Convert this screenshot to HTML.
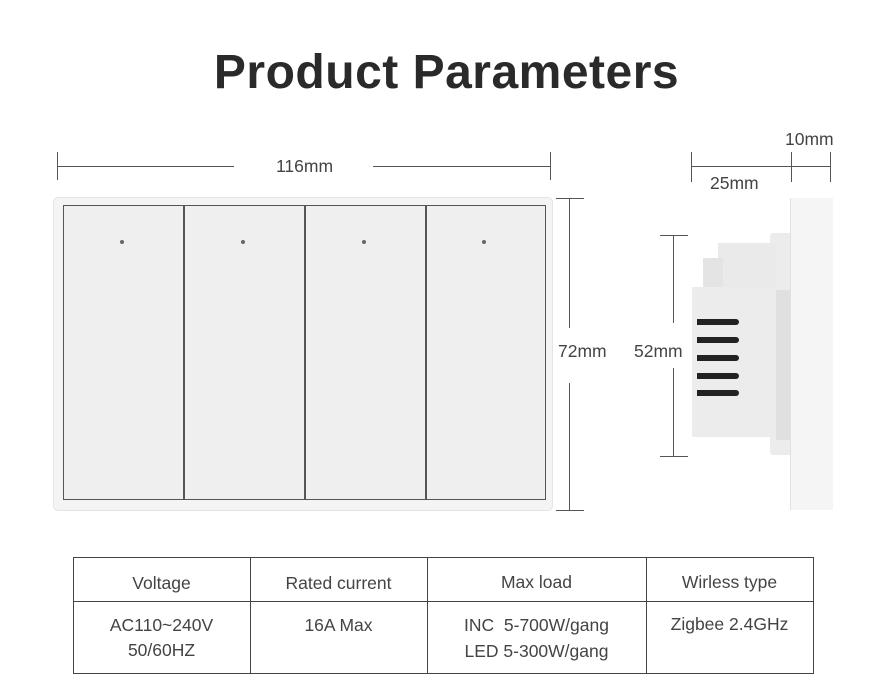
<!DOCTYPE html>
<html><head><style>
body{margin:0;width:893px;height:700px;background:#fff;position:relative;overflow:hidden;font-family:"Liberation Sans","DejaVu Sans",sans-serif;color:#333}
.a{position:absolute}
.t{position:absolute;font-size:17.5px;color:#444;white-space:nowrap}
</style></head><body>
<div class="a" style="left:0;top:45px;width:893px;text-align:center;font-size:48px;font-weight:bold;color:#2a2a2a;letter-spacing:0.5px">Product Parameters</div>

<!-- top dim -->
<div class="a" style="left:57px;top:152px;width:1px;height:28px;background:#555"></div>
<div class="a" style="left:57px;top:166px;width:177px;height:1px;background:#555"></div>
<div class="a" style="left:373px;top:166px;width:178px;height:1px;background:#555"></div>
<div class="a" style="left:550px;top:152px;width:1px;height:28px;background:#555"></div>
<div class="t" style="left:276px;top:156px">116mm</div>

<!-- panel -->
<div class="a" style="left:53px;top:197px;width:498px;height:312px;background:#f4f4f4;border:1px solid #e4e4e4;border-radius:5px"></div>
<div class="a" style="left:63px;top:205px;width:481px;height:293px;background:#efefef;border:1.5px solid #555"></div>
<div class="a" style="left:183px;top:206px;width:1.5px;height:293px;background:#555"></div>
<div class="a" style="left:304px;top:206px;width:1.5px;height:293px;background:#555"></div>
<div class="a" style="left:425px;top:206px;width:1.5px;height:293px;background:#555"></div>
<div class="a" style="left:120px;top:240px;width:4px;height:4px;border-radius:50%;background:#666"></div>
<div class="a" style="left:241px;top:240px;width:4px;height:4px;border-radius:50%;background:#666"></div>
<div class="a" style="left:362px;top:240px;width:4px;height:4px;border-radius:50%;background:#666"></div>
<div class="a" style="left:482px;top:240px;width:4px;height:4px;border-radius:50%;background:#666"></div>

<!-- 72mm -->
<div class="a" style="left:556px;top:198px;width:28px;height:1px;background:#555"></div>
<div class="a" style="left:569px;top:198px;width:1px;height:130px;background:#555"></div>
<div class="a" style="left:569px;top:383px;width:1px;height:127px;background:#555"></div>
<div class="a" style="left:556px;top:510px;width:28px;height:1px;background:#555"></div>
<div class="t" style="left:558px;top:341px">72mm</div>

<!-- side dims -->
<div class="a" style="left:691px;top:152px;width:1px;height:30px;background:#555"></div>
<div class="a" style="left:691px;top:166px;width:140px;height:1px;background:#555"></div>
<div class="a" style="left:791px;top:152px;width:1px;height:30px;background:#555"></div>
<div class="a" style="left:830px;top:152px;width:1px;height:30px;background:#555"></div>
<div class="t" style="left:785px;top:129px">10mm</div>
<div class="t" style="left:710px;top:173px">25mm</div>
<div class="a" style="left:660px;top:235px;width:28px;height:1px;background:#555"></div>
<div class="a" style="left:673px;top:235px;width:1px;height:88px;background:#555"></div>
<div class="a" style="left:673px;top:368px;width:1px;height:88px;background:#555"></div>
<div class="a" style="left:660px;top:456px;width:28px;height:1px;background:#555"></div>
<div class="t" style="left:634px;top:341px">52mm</div>

<!-- side view -->
<div class="a" style="left:770px;top:233px;width:22px;height:222px;background:#ececec;border-radius:3px 0 0 3px"></div>
<div class="a" style="left:718px;top:243px;width:58px;height:50px;background:#eaeaea"></div>
<div class="a" style="left:703px;top:258px;width:20px;height:40px;background:#e4e4e4"></div>
<div class="a" style="left:692px;top:287px;width:84px;height:150px;background:#ececec;border-radius:2px"></div>
<div class="a" style="left:776px;top:290px;width:14px;height:150px;background:#e0e0e0"></div>
<div class="a" style="left:697px;top:319px;width:42px;height:6px;background:#222;border-radius:0 3px 3px 0"></div>
<div class="a" style="left:697px;top:337px;width:42px;height:6px;background:#222;border-radius:0 3px 3px 0"></div>
<div class="a" style="left:697px;top:355px;width:42px;height:6px;background:#222;border-radius:0 3px 3px 0"></div>
<div class="a" style="left:697px;top:373px;width:42px;height:6px;background:#222;border-radius:0 3px 3px 0"></div>
<div class="a" style="left:697px;top:390px;width:42px;height:6px;background:#222;border-radius:0 3px 3px 0"></div>
<div class="a" style="left:791px;top:340px;width:5px;height:28px;border:1px solid #bbb;background:#f0f0f0"></div>
<div class="a" style="left:790px;top:198px;width:42px;height:312px;background:#f5f5f5;border-left:1px solid #e0e0e0"></div>

<!-- table -->
<div class="a" style="left:73px;top:557px;width:739px;height:115px;border:1px solid #444"></div>
<div class="a" style="left:73px;top:601px;width:740px;height:1px;background:#444"></div>
<div class="a" style="left:250px;top:557px;width:1px;height:116px;background:#444"></div>
<div class="a" style="left:427px;top:557px;width:1px;height:116px;background:#444"></div>
<div class="a" style="left:646px;top:557px;width:1px;height:116px;background:#444"></div>
<div class="t" style="left:73px;top:573px;width:177px;text-align:center">Voltage</div>
<div class="t" style="left:250px;top:573px;width:177px;text-align:center">Rated current</div>
<div class="t" style="left:427px;top:572px;width:219px;text-align:center">Max load</div>
<div class="t" style="left:646px;top:572px;width:167px;text-align:center">Wirless type</div>
<div class="t" style="left:73px;top:613px;width:177px;text-align:center;line-height:25px">AC110~240V<br>50/60HZ</div>
<div class="t" style="left:250px;top:613px;width:177px;text-align:center;line-height:25px">16A Max</div>
<div class="t" style="left:427px;top:612px;width:219px;text-align:center;line-height:26px">INC&nbsp; 5-700W/gang<br>LED 5-300W/gang</div>
<div class="t" style="left:646px;top:614px;width:167px;text-align:center">Zigbee 2.4GHz</div>
</body></html>
